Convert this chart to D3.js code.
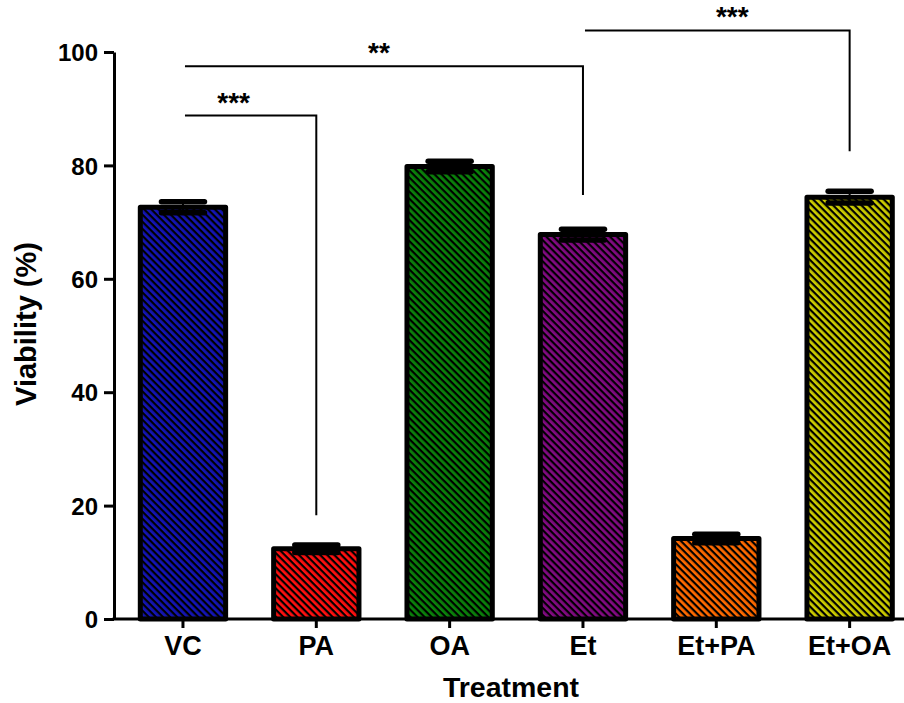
<!DOCTYPE html>
<html>
<head>
<meta charset="utf-8">
<script src="https://cdn.jsdelivr.net/npm/d3@7"></script>
<style>
  html, body { margin: 0; padding: 0; background: #fff; }
  svg { display: block; }
  text { font-family: "Liberation Sans", Arial, Helvetica, sans-serif; font-weight: bold; fill: #000; }
</style>
</head>
<body>
<svg id="chart" width="904" height="703"></svg>
<script>
// Cell viability per treatment (mean ± SEM, %)
const categories = ["VC", "PA", "OA", "Et", "Et+PA", "Et+OA"];
const viability  = [72.6, 12.4, 79.8, 67.8, 14.2, 74.4];
const sem        = [0.97, 0.65, 0.93, 0.95, 0.73, 1.05];
const barColors  = ["#1414b4", "#ff1010", "#0a820a", "#820a82", "#ff6a00", "#cccc00"];
const yTicks     = [0, 20, 40, 60, 80, 100];

// Significance comparisons: [group A, group B, bracket level, drop-end level, label]
const compFrom   = ["VC", "VC", "Et"];
const compTo     = ["PA", "Et", "Et+OA"];
const compLevel  = [88.8, 97.5, 103.8];
const compDrop   = [18.3, 74.8, 82.5];
const compLabel  = ["***", "**", "***"];

const svg = d3.select("#chart");
const W = 904;
const axisX = 114;

const y = d3.scaleLinear().domain([0, 100]).range([619, 52]);
const x = d3.scaleBand().domain(categories)
  .range([116.3, 916.3]).paddingInner(0.36).paddingOuter(0.18);

// Diagonal hatch patterns, one per bar colour
const defs = svg.append("defs");
const hatchStep = 5.0;
barColors.forEach((c, i) => {
  const p = defs.append("pattern")
    .attr("id", "hatch" + i)
    .attr("patternUnits", "userSpaceOnUse")
    .attr("width", 10).attr("height", hatchStep)
    .attr("patternTransform", "rotate(45)");
  p.append("rect").attr("width", 10).attr("height", hatchStep).attr("fill", c);
  p.append("rect").attr("y", 0).attr("width", 10).attr("height", 2.2).attr("fill", "#000");
});

// Bars
svg.append("g").selectAll("rect")
  .data(categories)
  .join("rect")
  .attr("x", d => x(d))
  .attr("y", (d, i) => y(viability[i]))
  .attr("width", x.bandwidth())
  .attr("height", (d, i) => y(0) - y(viability[i]))
  .attr("fill", (d, i) => `url(#hatch${i})`)
  .attr("stroke", "#000")
  .attr("stroke-width", 5)
  .attr("stroke-linejoin", "round");

// Error bars
const capW = 48;
const eb = svg.append("g").attr("stroke", "#000");
categories.forEach((d, i) => {
  const cx = x(d) + x.bandwidth() / 2;
  const hi = y(viability[i] + sem[i]);
  const lo = y(viability[i] - sem[i]);
  eb.append("line").attr("x1", cx).attr("x2", cx).attr("y1", hi).attr("y2", lo).attr("stroke-width", 2);
  [hi, lo].forEach(yy => {
    eb.append("line")
      .attr("x1", cx - capW / 2 + 2.5).attr("x2", cx + capW / 2 - 2.5)
      .attr("y1", yy).attr("y2", yy)
      .attr("stroke-width", 5.5).attr("stroke-linecap", "round");
  });
});

// Y axis
const yAxis = svg.append("g")
  .attr("transform", `translate(${axisX},0)`)
  .call(d3.axisLeft(y).tickValues(yTicks).tickSize(10).tickSizeOuter(0).tickPadding(6));
yAxis.select(".domain").attr("stroke-width", 3);
yAxis.selectAll(".tick line").attr("stroke-width", 3);
yAxis.selectAll(".tick text").style("font-size", "24px").attr("dy", "0.36em");

// X axis
const xAxis = svg.append("g")
  .attr("transform", `translate(0,${y(0)})`)
  .call(d3.axisBottom(x).tickSize(9).tickSizeOuter(0).tickPadding(8));
xAxis.select(".domain").attr("d", `M${axisX - 1.5},0H${W}`).attr("stroke-width", 3);
xAxis.selectAll(".tick line").attr("stroke-width", 3);
xAxis.selectAll(".tick text").style("font-size", "27px");

// Axis titles
svg.append("text")
  .attr("x", 511).attr("y", 697)
  .attr("text-anchor", "middle")
  .style("font-size", "28.5px")
  .text("Treatment");

svg.append("text")
  .attr("transform", "translate(36,324) rotate(-90)")
  .attr("text-anchor", "middle")
  .style("font-size", "29px")
  .text("Viability (%)");

// Significance brackets
const labelShift = [-17, -5, 15];
const br = svg.append("g");
compFrom.forEach((a, i) => {
  const xa = x(a) + x.bandwidth() / 2 + 2;
  const xb = x(compTo[i]) + x.bandwidth() / 2;
  const yl = y(compLevel[i]);
  br.append("path")
    .attr("d", `M${xa},${yl}H${xb}V${y(compDrop[i])}`)
    .attr("fill", "none").attr("stroke", "#000").attr("stroke-width", 2);
  br.append("text")
    .attr("x", (xa + xb) / 2 + labelShift[i])
    .attr("y", yl - 4)
    .attr("text-anchor", "middle")
    .style("font-size", "28px")
    .text(compLabel[i]);
});
</script>
</body>
</html>
